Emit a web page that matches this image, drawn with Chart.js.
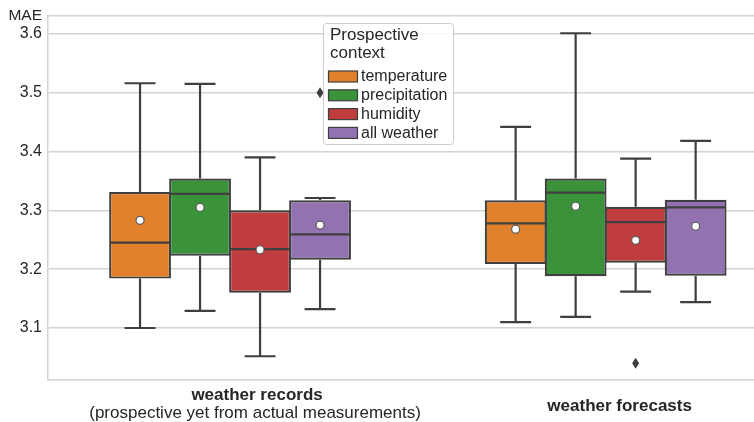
<!DOCTYPE html>
<html>
<head>
<meta charset="utf-8">
<script src="https://cdn.jsdelivr.net/npm/chart.js@4.4.1/dist/chart.umd.min.js"></script>
<style>
  html, body { margin: 0; padding: 0; background: #ffffff; }
  canvas { display: block; }
</style>
</head>
<body>
<canvas id="chart" width="754" height="422"></canvas>
<script>
// Groups along the x axis and the prospective contexts (hues)
const groups = ['weather records', 'weather forecasts'];
const groupNotes = ['(prospective yet from actual measurements)', ''];
const contexts = ['temperature', 'precipitation', 'humidity', 'all weather'];
const colors = ['#e1812c', '#3a923a', '#c03d3e', '#9372b2'];

// Box statistics per context: [weather records, weather forecasts]
const whiskerLow  = [[3.100, 3.110], [3.129, 3.119], [3.052, 3.162], [3.132, 3.144]];
const q1          = [[3.184, 3.209], [3.223, 3.188], [3.160, 3.211], [3.216, 3.189]];
const median      = [[3.245, 3.278], [3.328, 3.330], [3.234, 3.280], [3.259, 3.305]];
const q3          = [[3.331, 3.317], [3.354, 3.354], [3.300, 3.306], [3.317, 3.318]];
const whiskerHigh = [[3.516, 3.442], [3.515, 3.601], [3.390, 3.388], [3.321, 3.418]];
const mean        = [[3.283, 3.268], [3.305, 3.307], [3.233, 3.249], [3.275, 3.273]];
const outliers    = [[[], []], [[], []], [[], [3.040]], [[3.500], []]];

const yTicks = [3.1, 3.2, 3.3, 3.4, 3.5, 3.6];
const yMin = 3.0125;
const yMax = 3.631;
const xMin = -0.4847;
const xMax = 1.395;

const FONT = '"Liberation Sans", Arial, Helvetica, sans-serif';
const TEXT = '#262626';
const LINE = '#3f3f3f';
const GRID = '#d3d3d3';

const datasets = contexts.map((name, k) => ({
  label: name,
  data: groups.map((g, i) => ({ x: i, y: [q1[k][i], q3[k][i]] })),
  backgroundColor: colors[k],
  borderColor: LINE,
  borderWidth: 2.2,
  borderSkipped: false,
  inflateAmount: 0,
  categoryPercentage: 0.639,
  barPercentage: 1.03
}));

// Whiskers, caps, medians, means and fliers on top of the boxes
const boxDecor = {
  id: 'boxDecor',
  afterDatasetsDraw(chart) {
    const ctx = chart.ctx;
    const y = chart.scales.y;
    ctx.save();
    ctx.strokeStyle = LINE;
    ctx.lineWidth = 2.2;
    ctx.lineCap = 'butt';
    chart.data.datasets.forEach((ds, k) => {
      const meta = chart.getDatasetMeta(k);
      meta.data.forEach((el, i) => {
        const { x, width } = el.getProps(['x', 'width'], true);
        const half = width / 2;
        const cap = width / 4;
        const yq1 = y.getPixelForValue(q1[k][i]);
        const yq3 = y.getPixelForValue(q3[k][i]);
        const ylo = y.getPixelForValue(whiskerLow[k][i]);
        const yhi = y.getPixelForValue(whiskerHigh[k][i]);
        const ymed = y.getPixelForValue(median[k][i]);
        ctx.beginPath();
        ctx.moveTo(x, yq3); ctx.lineTo(x, yhi);
        ctx.moveTo(x - cap, yhi); ctx.lineTo(x + cap, yhi);
        ctx.moveTo(x, yq1); ctx.lineTo(x, ylo);
        ctx.moveTo(x - cap, ylo); ctx.lineTo(x + cap, ylo);
        ctx.moveTo(x - half + 1, ymed); ctx.lineTo(x + half - 1, ymed);
        ctx.stroke();

        // mean marker
        const ym = y.getPixelForValue(mean[k][i]);
        ctx.beginPath();
        ctx.arc(x, ym, 4, 0, Math.PI * 2);
        ctx.fillStyle = '#ffffff';
        ctx.fill();
        ctx.lineWidth = 1.2;
        ctx.strokeStyle = '#595959';
        ctx.stroke();
        ctx.lineWidth = 2.2;
        ctx.strokeStyle = LINE;

        // outliers as thin diamonds
        outliers[k][i].forEach(v => {
          const yo = y.getPixelForValue(v);
          ctx.beginPath();
          ctx.moveTo(x, yo - 5.5);
          ctx.lineTo(x + 3.5, yo);
          ctx.lineTo(x, yo + 5.5);
          ctx.lineTo(x - 3.5, yo);
          ctx.closePath();
          ctx.fillStyle = LINE;
          ctx.fill();
        });
      });
    });
    ctx.restore();
  },
  afterDraw(chart) {
    const ctx = chart.ctx;
    const xs = chart.scales.x;
    ctx.save();

    // y axis name at the top
    ctx.fillStyle = TEXT;
    ctx.font = '15.5px ' + FONT;
    ctx.textAlign = 'right';
    ctx.textBaseline = 'alphabetic';
    ctx.fillText('MAE', 42, 20);

    // group labels under the axis
    const shift = [27, 14];
    const nameBase = [399.5, 410.5];
    groups.forEach((g, i) => {
      const cx = xs.getPixelForValue(i) + shift[i];
      ctx.textAlign = 'center';
      ctx.font = 'bold 17px ' + FONT;
      ctx.fillText(g, cx, nameBase[i]);
      if (groupNotes[i]) {
        ctx.font = '17px ' + FONT;
        ctx.fillText(groupNotes[i], cx - 2, 418);
      }
    });

    // legend
    const lx = 323, ly = 23, lw = 130, lh = 121;
    ctx.beginPath();
    ctx.roundRect(lx + 0.5, ly + 0.5, lw, lh, 3);
    ctx.fillStyle = 'rgba(255,255,255,0.85)';
    ctx.fill();
    ctx.strokeStyle = '#cccccc';
    ctx.lineWidth = 1;
    ctx.stroke();

    ctx.fillStyle = TEXT;
    ctx.textAlign = 'left';
    ctx.textBaseline = 'middle';
    ctx.font = '17px ' + FONT;
    ctx.fillText('Prospective', 330, 35);
    ctx.fillText('context', 330, 53.5);
    ctx.font = '16px ' + FONT;
    chart.data.datasets.forEach((ds, k) => {
      const cy = 76 + k * 18.8;
      ctx.fillStyle = ds.backgroundColor;
      ctx.fillRect(328.5, cy - 5, 29, 11);
      ctx.strokeStyle = LINE;
      ctx.lineWidth = 1.2;
      ctx.strokeRect(328.5, cy - 5, 29, 11);
      ctx.fillStyle = TEXT;
      ctx.fillText(ds.label, 361, cy + 1);
    });
    ctx.restore();
  }
};

new Chart(document.getElementById('chart'), {
  type: 'bar',
  data: { datasets },
  options: {
    responsive: false,
    animation: false,
    devicePixelRatio: 1,
    layout: { padding: { top: 15, right: 0, bottom: 0, left: 0 } },
    plugins: {
      legend: { display: false },
      tooltip: { enabled: false }
    },
    scales: {
      x: {
        type: 'linear',
        min: xMin,
        max: xMax,
        offset: false,
        afterBuildTicks: s => {
          s.ticks = groups.map((g, i) => ({ value: i }));
        },
        grid: { display: false },
        ticks: { display: false },
        border: { display: true, color: GRID, width: 1.5 },
        afterFit: s => { s.height = 42.5; }
      },
      y: {
        type: 'linear',
        min: yMin,
        max: yMax,
        afterBuildTicks: s => {
          s.ticks = yTicks.map(v => ({ value: v })).concat([{ value: yMax }]);
        },
        ticks: {
          callback: v => (yTicks.includes(v) ? v.toFixed(1) : ''),
          font: { family: FONT, size: 16 },
          color: TEXT,
          padding: 6
        },
        grid: { color: GRID, lineWidth: 1.5, drawTicks: false },
        border: { display: true, color: GRID, width: 1.5 },
        afterFit: s => { s.width = 48; }
      }
    }
  },
  plugins: [boxDecor]
});
</script>
</body>
</html>
